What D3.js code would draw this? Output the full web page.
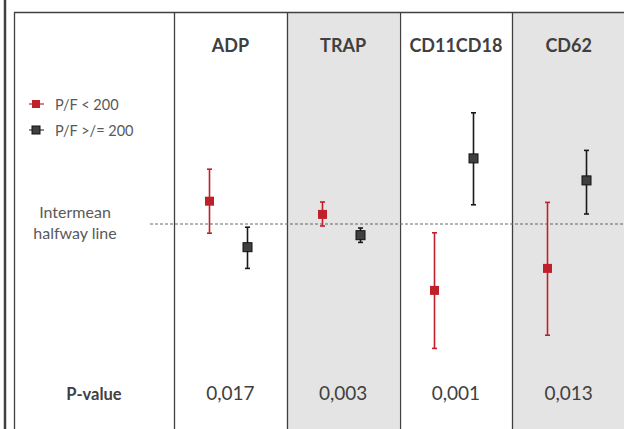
<!DOCTYPE html>
<html>
<head>
<meta charset="utf-8">
<script src="https://cdn.jsdelivr.net/npm/d3@7"></script>
<style>
  html, body { margin: 0; padding: 0; background: #fff; }
  svg { display: block; font-family: Lato, "Open Sans", "Liberation Sans", sans-serif; }
</style>
</head>
<body>
<svg id="chart" width="624" height="429"></svg>
<script>
// ---- Data (units relative to the intermean halfway line = 0) ----
const categories = ["ADP", "TRAP", "CD11CD18", "CD62"];
const seriesNames = ["P/F < 200", "P/F >/= 200"];
const lowMean  = [0.57, 0.24, -1.66, -1.11];
const lowUpper = [1.37, 0.55, -0.22, 0.54];
const lowLower = [-0.23, -0.05, -3.11, -2.78];
const highMean  = [-0.58, -0.28, 1.64, 1.09];
const highUpper = [-0.08, -0.10, 2.78, 1.84];
const highLower = [-1.11, -0.46, 0.48, 0.25];
const pValues = ["0,017", "0,003", "0,001", "0,013"];
const shaded = [false, true, false, true];
const colors = ["#c0202a", "#404040"];

const svg = d3.select("#chart");
const W = 624, H = 429;
const topY = 12;

const x = d3.scaleBand().domain(categories).range([174, 625]).padding(0);
const sub = d3.scalePoint().domain(seriesNames).range([0.31, 0.65]);
const y = d3.scaleLinear().domain([-4, 4]).range([384, 64]);

// shaded columns
svg.selectAll("rect.col").data(categories).join("rect")
  .attr("x", d => x(d)).attr("y", topY)
  .attr("width", x.bandwidth()).attr("height", H - topY)
  .attr("fill", (d, i) => shaded[i] ? "#e4e4e4" : "#fff");

// borders
svg.append("line").attr("x1", 5).attr("x2", 5).attr("y1", 0).attr("y2", H)
  .attr("stroke", "#404040").attr("stroke-width", 2.5);
svg.append("line").attr("x1", 14.5).attr("x2", 14.5).attr("y1", topY).attr("y2", H)
  .attr("stroke", "#404040").attr("stroke-width", 1.3);
svg.append("line").attr("x1", 14).attr("x2", W).attr("y1", topY + 0.5).attr("y2", topY + 0.5)
  .attr("stroke", "#404040").attr("stroke-width", 1.3);
svg.selectAll("line.div").data(categories).join("line")
  .attr("x1", d => Math.round(x(d)) + 0.5).attr("x2", d => Math.round(x(d)) + 0.5)
  .attr("y1", topY).attr("y2", H)
  .attr("stroke", "#404040").attr("stroke-width", 1.3);

// header labels
svg.selectAll("text.hdr").data(categories).join("text")
  .attr("x", d => x(d) + x.bandwidth() / 2).attr("y", 52)
  .attr("text-anchor", "middle").attr("font-weight", "bold")
  .attr("font-size", 18).attr("fill", "#404040").text(d => d);

// halfway line
svg.append("line").attr("x1", 150).attr("x2", W).attr("y1", y(0)).attr("y2", y(0))
  .attr("stroke", "#666").attr("stroke-width", 1).attr("stroke-dasharray", "3,2");
svg.append("text").attr("x", 75).attr("y", 218).attr("text-anchor", "middle")
  .attr("font-size", 16).attr("fill", "#595959").text("Intermean");
svg.append("text").attr("x", 75).attr("y", 239).attr("text-anchor", "middle")
  .attr("font-size", 16).attr("fill", "#595959").text("halfway line");

// legend
seriesNames.forEach((s, i) => {
  const ly = 104 + i * 26;
  svg.append("line").attr("x1", 29).attr("x2", 44).attr("y1", ly).attr("y2", ly)
    .attr("stroke", colors[i]).attr("stroke-width", 1.2);
  svg.append("rect").attr("x", 32).attr("y", ly - 4).attr("width", 8).attr("height", 8)
    .attr("fill", colors[i]).attr("stroke", i ? "#111" : "none").attr("stroke-width", 1);
  svg.append("text").attr("x", 55).attr("y", ly + 6)
    .attr("font-size", 14.5).attr("fill", "#595959").text(s);
});

// error bars & markers
const series = [
  { name: seriesNames[0], mean: lowMean, up: lowUpper, lo: lowLower, color: colors[0], stroke: "none", lineColor: "#c0202a" },
  { name: seriesNames[1], mean: highMean, up: highUpper, lo: highLower, color: colors[1], stroke: "#111", lineColor: "#1a1a1a" }
];
series.forEach(s => {
  const g = svg.append("g");
  categories.forEach((c, i) => {
    const cx = Math.round(x(c) + sub(s.name) * x.bandwidth()) + 0.5;
    g.append("line").attr("x1", cx).attr("x2", cx).attr("y1", y(s.up[i])).attr("y2", y(s.lo[i]))
      .attr("stroke", s.lineColor).attr("stroke-width", 1.6);
    [s.up[i], s.lo[i]].forEach(v => {
      g.append("line").attr("x1", cx - 2.5).attr("x2", cx + 2.5).attr("y1", y(v)).attr("y2", y(v))
        .attr("stroke", s.lineColor).attr("stroke-width", 1.6);
    });
    g.append("rect").attr("x", cx - 4.5).attr("y", y(s.mean[i]) - 4.5)
      .attr("width", 9).attr("height", 9)
      .attr("fill", s.color).attr("stroke", s.stroke).attr("stroke-width", 1);
  });
});

// p-value row
svg.append("text").attr("x", 94).attr("y", 400).attr("text-anchor", "middle")
  .attr("font-weight", "bold").attr("font-size", 16.5).attr("fill", "#404040").text("P-value");
svg.selectAll("text.pv").data(pValues).join("text")
  .attr("x", (d, i) => x(categories[i]) + x.bandwidth() / 2).attr("y", 400)
  .attr("text-anchor", "middle").attr("font-size", 19).attr("fill", "#404040").text(d => d);
</script>
</body>
</html>
